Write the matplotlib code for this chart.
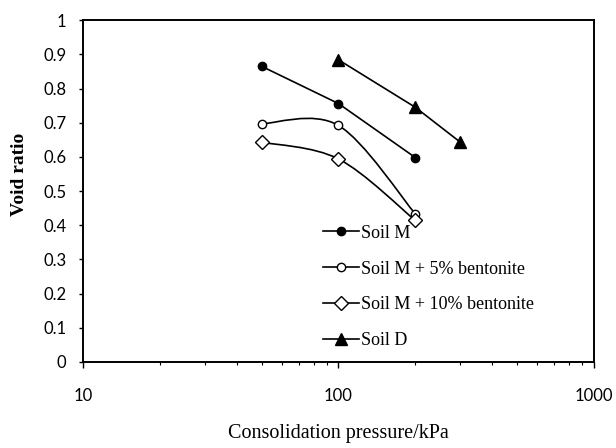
"""Void ratio vs consolidation pressure (e-log p curves)."""
import numpy as np
import matplotlib
matplotlib.use('Agg')
import matplotlib.pyplot as plt
from matplotlib.path import Path
from matplotlib.patches import PathPatch
from matplotlib.lines import Line2D
from matplotlib.ticker import FixedLocator, NullFormatter

# data
soil_m_p = [50, 100, 200]
soil_m_e = [0.865, 0.756, 0.598]
bent5_p = [50, 100, 200]
bent5_e = [0.697, 0.692, 0.433]
bent10_p = [50, 100, 200]
bent10_e = [0.643, 0.594, 0.414]
soil_d_p = [100, 200, 300]
soil_d_e = [0.884, 0.745, 0.643]

labels = ['Soil M', 'Soil M + 5% bentonite', 'Soil M + 10% bentonite', 'Soil D']
y_ticks = [0, 0.1, 0.2, 0.3, 0.4, 0.5, 0.6, 0.7, 0.8, 0.9, 1]
y_tick_labels = ['0', '0.1', '0.2', '0.3', '0.4', '0.5', '0.6', '0.7', '0.8', '0.9', '1']
x_ticks = [10, 100, 1000]
x_tick_labels = ['10', '100', '1000']


def smooth_path(xs, ys):
    """Excel-like smoothed line: cubic Bezier through the points in (log x, y)."""
    lx = np.log10(np.asarray(xs, float))
    ly = np.asarray(ys, float)
    pts = np.column_stack([lx, ly])
    n = len(pts)
    verts = [pts[0]]
    codes = [Path.MOVETO]
    for i in range(n - 1):
        p_prev = pts[max(i - 1, 0)]
        p0, p1 = pts[i], pts[i + 1]
        p_next = pts[min(i + 2, n - 1)]
        c1 = p0 + (p1 - p_prev) / 6.0
        c2 = p1 - (p_next - p0) / 6.0
        verts += [c1, c2, p1]
        codes += [Path.CURVE4] * 3
    verts = np.array(verts)
    verts[:, 0] = 10 ** verts[:, 0]
    return Path(verts, codes)


plt.rcParams['font.family'] = 'Liberation Serif'

fig = plt.figure(figsize=(6.16, 4.48), dpi=100)
ax = fig.add_axes([0.135, 0.192, 0.829, 0.763])

lw = 1.2
ax.plot(soil_m_p, soil_m_e, color='black', lw=lw, marker='o', ms=6)
ax.add_patch(PathPatch(smooth_path(bent5_p, bent5_e), fill=False, lw=lw, ec='black'))
ax.plot(bent5_p, bent5_e, ls='none', marker='o', ms=6, mfc='white', mec='black', mew=1)
ax.add_patch(PathPatch(smooth_path(bent10_p, bent10_e), fill=False, lw=lw, ec='black'))
ax.plot(bent10_p, bent10_e, ls='none', marker='D', ms=7, mfc='white', mec='black', mew=1)
ax.plot(soil_d_p, soil_d_e, color='black', lw=lw, marker='^', ms=9)

ax.set_xscale('log')
ax.set_xlim(10, 1000)
ax.set_ylim(0, 1)
ax.set_yticks(y_ticks)
ax.set_yticklabels(y_tick_labels, family='Lato', fontsize=12)
ax.xaxis.set_major_locator(FixedLocator(x_ticks))
ax.set_xticklabels(x_tick_labels, family='Lato', fontsize=12)
ax.xaxis.set_minor_formatter(NullFormatter())
ax.tick_params(axis='y', direction='out', length=3, width=1, pad=9)
ax.tick_params(axis='x', which='major', direction='out', length=4, width=1, pad=15)
ax.tick_params(axis='x', which='minor', direction='out', length=2, width=0.8)
for s in ax.spines.values():
    s.set_linewidth(1.4)

ax.set_ylabel('Void ratio', fontsize=14, fontweight='bold')
ax.yaxis.set_label_coords(-0.108, 0.55)
ax.set_xlabel('Consolidation pressure/kPa', fontsize=14.5, labelpad=14)

handles = [
    Line2D([], [], color='black', lw=lw, marker='o', ms=6),
    Line2D([], [], color='black', lw=lw, marker='o', ms=6, mfc='white', mew=1),
    Line2D([], [], color='black', lw=lw, marker='D', ms=7, mfc='white', mew=1),
    Line2D([], [], color='black', lw=lw, marker='^', ms=9),
]
ax.legend(handles, labels, loc='upper left', bbox_to_anchor=(0.47, 0.402),
          frameon=False, fontsize=13, numpoints=1, handlelength=2.0,
          handletextpad=0.1, labelspacing=1.05, borderpad=0, borderaxespad=0)

fig.savefig('out.png', dpi=100)
